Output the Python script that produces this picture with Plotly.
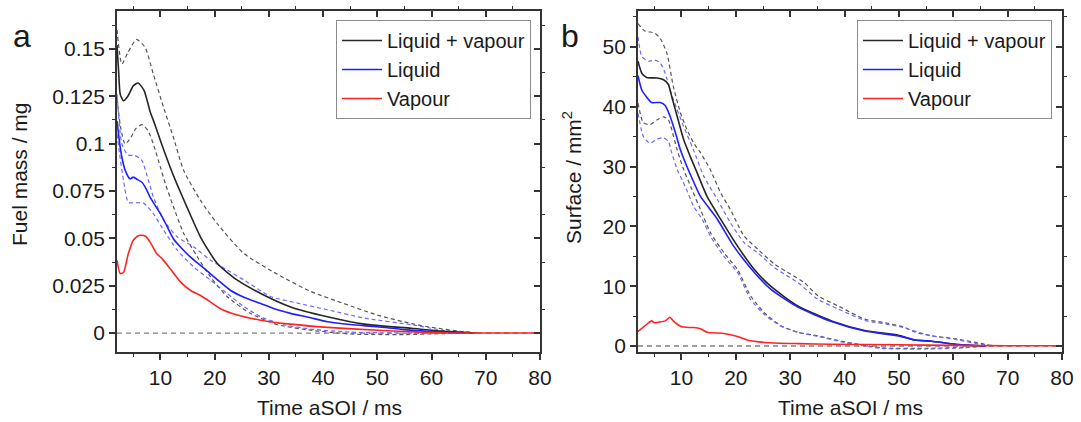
import plotly.graph_objects as go

# ---------------- Panel a : fuel mass (mg) ----------------
a_lv_x = [2, 2.3, 2.6, 3.2, 4, 5, 5.9, 7, 8.1, 9, 10, 11.8, 13, 14.9, 17.4, 20.5, 24.2, 28.5, 34, 40.8, 47.6, 56.3, 62, 68]
a_lv_y = [0.152, 0.138, 0.126, 0.1226, 0.125, 0.1305, 0.132, 0.128, 0.117, 0.110, 0.1016, 0.0875, 0.079, 0.0665, 0.0507, 0.0367, 0.0279, 0.0209, 0.0138, 0.0086, 0.0047, 0.0025, 0.001, 0]

a_liq_x = [2, 2.5, 2.9, 3.5, 4.4, 5, 5.8, 6.6, 7.4, 8.1, 9, 10, 11.2, 12.4, 14, 15.5, 17.5, 19.2, 21, 22.9, 25.5, 28.5, 31, 34, 37.5, 40.8, 45, 50, 55, 60, 66]
a_liq_y = [0.112, 0.1, 0.0928, 0.086, 0.0814, 0.0823, 0.081, 0.0796, 0.076, 0.0717, 0.0675, 0.063, 0.0565, 0.0498, 0.0445, 0.0402, 0.0355, 0.0314, 0.027, 0.0226, 0.0188, 0.0156, 0.0128, 0.0104, 0.0082, 0.006, 0.0045, 0.0033, 0.0018, 0.0008, 0]

a_vap_x = [2, 2.6, 3.2, 4.1, 5, 5.9, 6.5, 7.2, 8.1, 9.3, 10.3, 11.8, 13.7, 15.5, 17.4, 19.2, 21, 24.2, 28.5, 34, 40.8, 50, 58, 64, 80]
a_vap_y = [0.0384, 0.0314, 0.032, 0.042, 0.049, 0.0514, 0.0516, 0.0512, 0.048, 0.042, 0.0393, 0.034, 0.027, 0.0226, 0.0198, 0.0165, 0.013, 0.0095, 0.0068, 0.0047, 0.003, 0.0015, 0.0005, 0, 0]

a_lv_hi_x = [2, 2.9, 4, 5.6, 7.2, 8.7, 10.6, 12.4, 14.3, 17.4, 20.5, 25.4, 31.6, 37.7, 43.9, 50, 56.3, 60, 65, 69]
a_lv_hi_y = [0.16, 0.142, 0.148, 0.155, 0.1507, 0.1367, 0.119, 0.1033, 0.0858, 0.07, 0.0577, 0.042, 0.031, 0.022, 0.0155, 0.0095, 0.005, 0.003, 0.001, 0]

a_lv_lo_x = [2, 2.7, 3.5, 4.5, 5.5, 6.6, 7.7, 8.7, 10, 10.9, 12.4, 14.3, 16.8, 19.2, 22.3, 26.6, 31.6, 37.7, 45, 55, 62, 68]
a_lv_lo_y = [0.124, 0.108, 0.0998, 0.103, 0.108, 0.110, 0.107, 0.0998, 0.0876, 0.079, 0.0667, 0.0526, 0.0403, 0.0298, 0.0193, 0.0104, 0.0044, 0.0015, -0.0005, -0.0008, -0.0003, 0]

a_liq_hi_x = [2, 2.9, 4, 5.3, 6.6, 7.8, 8.7, 10.6, 13.1, 16.1, 19.2, 22.3, 25.4, 30.3, 35.3, 40.8, 47.6, 56.3, 62, 66]
a_liq_hi_y = [0.126, 0.0998, 0.094, 0.0937, 0.091, 0.0805, 0.0719, 0.0596, 0.0508, 0.0456, 0.0386, 0.0333, 0.028, 0.0193, 0.0158, 0.0123, 0.0079, 0.0044, 0.0015, 0]

a_liq_lo_x = [2, 2.6, 3.2, 4.1, 5.5, 6.9, 8.7, 10.6, 13.1, 16.1, 19.2, 22.3, 25.4, 28.5, 32.8, 37.7, 45, 55, 62]
a_liq_lo_y = [0.105, 0.092, 0.0805, 0.069, 0.0688, 0.0686, 0.063, 0.0543, 0.0438, 0.035, 0.028, 0.0209, 0.0139, 0.0086, 0.0044, 0.0021, 0.0005, 0, 0]

# ---------------- Panel b : surface (mm^2) ----------------
b_lv_x = [2, 2.7, 3.6, 5.5, 6.7, 7.6, 8.2, 9.2, 10.4, 11.6, 12.9, 14.7, 17.2, 20.3, 23.4, 26.4, 31.4, 37.6, 43.7, 49.9, 53, 56, 60.4, 66]
b_lv_y = [47.6, 45.6, 44.9, 44.8, 44.5, 43.7, 41.7, 38.4, 34.5, 31.7, 28.9, 25, 21.2, 16.7, 12.8, 10, 6.7, 4.2, 2.6, 1.8, 1.0, 0.8, 0.3, 0]

b_liq_x = [2, 2.7, 3.6, 4.5, 6.1, 7, 7.9, 8.9, 9.8, 11, 12.2, 13.5, 16.6, 19.6, 23.4, 26.4, 31.4, 37.6, 43.7, 49.9, 53, 56, 60.4, 66]
b_liq_y = [45.2, 42.8, 41.6, 40.7, 40.7, 40.2, 38.4, 35.6, 32.8, 30, 27.5, 25, 21.2, 16.7, 12.3, 9.5, 6.5, 4.1, 2.5, 1.7, 1.0, 0.8, 0.3, 0]

b_vap_x = [2, 3.3, 4.5, 5, 5.9, 7, 7.9, 8.5, 9.8, 11.3, 12.2, 13.5, 14.7, 17.8, 20.3, 22.1, 25.2, 31.4, 37.6, 49.9, 60, 70, 80]
b_vap_y = [2.4, 3.4, 4.2, 3.9, 4.0, 4.2, 4.8, 4.2, 3.3, 3.1, 3.1, 2.9, 2.3, 2.1, 1.6, 1.0, 0.6, 0.4, 0.3, 0.2, 0.1, 0.05, 0.05]

b_lv_hi_x = [2, 3.2, 5.1, 6.1, 7.3, 8.5, 9.8, 11, 12.2, 13.5, 15.3, 17.2, 19, 21.5, 24, 27.1, 30.1, 32.6, 35.1, 38.8, 43.7, 47.4, 51.1, 53, 56, 60.4, 65.3, 67]
b_lv_hi_y = [53.9, 52.7, 52.3, 51.4, 49, 43.4, 39, 36.2, 34, 32.3, 29.5, 25.6, 22.8, 18.4, 16.2, 13.7, 12, 10.6, 8.4, 6.7, 4.5, 3.9, 3.1, 2.3, 1.7, 1.2, 0.4, 0]

b_liq_hi_x = [2, 2.7, 3.9, 5.1, 6.1, 7, 7.9, 9.2, 10.4, 12.2, 14.1, 16.6, 19, 21.5, 24, 27.1, 31.4, 35.1, 38.8, 43.7, 49.9, 56, 60.4, 65, 69]
b_liq_hi_y = [51.7, 48.4, 47.6, 47.8, 47.3, 45.6, 42.8, 39.5, 36.7, 32.8, 28.4, 24.5, 20.6, 17.3, 15.6, 13.1, 10.6, 7.8, 6.2, 4.3, 3.3, 1.7, 1.1, 0.3, 0]

b_lv_lo_x = [2, 3, 4.2, 5.5, 6.7, 7.6, 8.2, 9.2, 10.4, 11.9, 13.5, 15.3, 17.8, 20.3, 22.7, 25.2, 28.3, 31.4, 35.1, 40, 46.8, 55, 62, 66]
b_lv_lo_y = [40.6, 37.3, 37, 37.8, 38.3, 37.8, 36.2, 32.8, 29.5, 26.2, 22.8, 19, 15.6, 12.8, 8.4, 5.6, 3.4, 2.3, 1.7, 0.7, -0.3, -0.4, -0.2, 0]

b_liq_lo_x = [2, 3, 4.2, 5.5, 6.7, 7.6, 8.2, 9.2, 10.1, 11, 12.2, 13.8, 15.3, 17.8, 20.3, 22.7, 25.2, 28.3, 31.4, 35.1, 40, 46.8, 55, 62, 66]
b_liq_lo_y = [38.9, 35, 33.9, 34.6, 34.8, 34.2, 32.3, 29.5, 27.8, 26, 23.4, 21.2, 18.4, 15, 12.3, 7.8, 5.3, 3.3, 2.3, 1.6, 0.6, -0.4, -0.5, -0.3, 0]

# ---------------- ticks / labels ----------------
x_tickvals = [10, 20, 30, 40, 50, 60, 70, 80]
x_ticktext = ["10", "20", "30", "40", "50", "60", "70", "80"]
a_tickvals = [0, 0.025, 0.05, 0.075, 0.1, 0.125, 0.15]
a_ticktext = ["0", "0.025", "0.05", "0.075", "0.1", "0.125", "0.15"]
b_tickvals = [0, 10, 20, 30, 40, 50]
b_ticktext = ["0", "10", "20", "30", "40", "50"]
series_names = ["Liquid + vapour", "Liquid", "Vapour"]

W, H = 1081, 422
FONT = "Liberation Sans, Arial, sans-serif"
C_BLACK = "#262626"
C_BLUE = "#1f1fff"
C_RED = "#ff2424"
C_GREY_D = "#555555"
C_BLUE_D = "#6a6aff"
AXC = "#333333"

fig = go.Figure()

def solid(x, y, name, color, xa, ya, legend):
    fig.add_trace(go.Scatter(x=x, y=y, name=name, mode="lines", xaxis=xa, yaxis=ya,
                             line=dict(color=color, width=1.6, shape="spline", smoothing=0.6),
                             legend=legend, hoverinfo="skip"))

def dashed(x, y, color, xa, ya):
    fig.add_trace(go.Scatter(x=x, y=y, mode="lines", xaxis=xa, yaxis=ya, showlegend=False,
                             line=dict(color=color, width=1.2, dash="4px,3px", shape="spline", smoothing=0.6),
                             hoverinfo="skip"))

# panel a
dashed(a_lv_hi_x, a_lv_hi_y, C_GREY_D, "x", "y")
dashed(a_lv_lo_x, a_lv_lo_y, C_GREY_D, "x", "y")
dashed(a_liq_hi_x, a_liq_hi_y, C_BLUE_D, "x", "y")
dashed(a_liq_lo_x, a_liq_lo_y, C_BLUE_D, "x", "y")
solid(a_lv_x, a_lv_y, series_names[0], C_BLACK, "x", "y", "legend")
solid(a_liq_x, a_liq_y, series_names[1], C_BLUE, "x", "y", "legend")
solid(a_vap_x, a_vap_y, series_names[2], C_RED, "x", "y", "legend")

# panel b
dashed(b_lv_hi_x, b_lv_hi_y, C_GREY_D, "x2", "y2")
dashed(b_lv_lo_x, b_lv_lo_y, C_GREY_D, "x2", "y2")
dashed(b_liq_hi_x, b_liq_hi_y, C_BLUE_D, "x2", "y2")
dashed(b_liq_lo_x, b_liq_lo_y, C_BLUE_D, "x2", "y2")
solid(b_lv_x, b_lv_y, series_names[0], C_BLACK, "x2", "y2", "legend2")
solid(b_liq_x, b_liq_y, series_names[1], C_BLUE, "x2", "y2", "legend2")
solid(b_vap_x, b_vap_y, series_names[2], C_RED, "x2", "y2", "legend2")

# invisible traces so that the mirrored (inside-tick) axes are drawn
fig.add_trace(go.Scatter(x=[None], y=[None], xaxis="x3", yaxis="y3", showlegend=False, hoverinfo="skip"))
fig.add_trace(go.Scatter(x=[None], y=[None], xaxis="x4", yaxis="y4", showlegend=False, hoverinfo="skip"))

# zero reference lines
for xr, yr in (("x", "y"), ("x2", "y2")):
    fig.add_shape(type="line", xref=xr, yref=yr, x0=2, x1=80, y0=0, y1=0, layer="below",
                  line=dict(color="#808080", width=1.3, dash="5px,4px"))

def px2fx(p):
    return p / W

def px2fy(p):
    return 1 - p / H

dom_a = [px2fx(117), px2fx(540)]
dom_b = [px2fx(638), px2fx(1062)]
dom_y = [px2fy(352), px2fy(11)]

tickfont = dict(family=FONT, size=21, color="#1a1a1a")
x_minor = [5, 15, 25, 35, 45, 55, 65, 75]

def main_x(dom, anchor):
    return dict(domain=dom, anchor=anchor, range=[2, 80], tickvals=x_tickvals, ticktext=x_ticktext,
                ticks="outside", ticklen=6, tickwidth=1.5, tickcolor=AXC, showline=True, linecolor=AXC,
                linewidth=1.8, showgrid=False, zeroline=False, tickfont=tickfont, automargin=False,
                minor=dict(tickvals=x_minor, ticklen=3, tickwidth=1.2, tickcolor=AXC),
                fixedrange=True)

def main_y(rng, tv, tt, minor_vals, anchor):
    return dict(domain=dom_y, anchor=anchor, range=rng, tickvals=tv, ticktext=tt,
                ticks="outside", ticklen=6, tickwidth=1.5, tickcolor=AXC, showline=True, linecolor=AXC,
                linewidth=1.8, showgrid=False, zeroline=False, tickfont=tickfont, automargin=False,
                minor=dict(tickvals=minor_vals, ticklen=3, tickwidth=1.2, tickcolor=AXC), fixedrange=True)

def mirror_x(dom, anchor, overlay):
    return dict(domain=dom, anchor=anchor, overlaying=overlay, side="top", range=[2, 80], tickvals=x_tickvals,
                ticks="inside", ticklen=6, tickwidth=1.5, tickcolor=AXC, showline=True, linecolor=AXC,
                linewidth=1.8, showgrid=False, zeroline=False, showticklabels=False, automargin=False,
                minor=dict(tickvals=x_minor, ticklen=3, tickwidth=1.2, tickcolor=AXC),
                fixedrange=True)

def mirror_y(rng, tv, minor_vals, anchor, overlay):
    return dict(domain=dom_y, anchor=anchor, overlaying=overlay, side="right", range=rng, tickvals=tv,
                ticks="inside", ticklen=6, tickwidth=1.5, tickcolor=AXC, showline=True, linecolor=AXC,
                linewidth=1.8, showgrid=False, zeroline=False, showticklabels=False, automargin=False,
                minor=dict(tickvals=minor_vals, ticklen=3, tickwidth=1.2, tickcolor=AXC), fixedrange=True)

a_range = [-0.01, 0.17]
b_range = [-1, 56]
a_minor = [-0.0125, 0.0125, 0.0375, 0.0625, 0.0875, 0.1125, 0.1375, 0.1625]
b_minor = [5, 15, 25, 35, 45, 55]

legend_common = dict(bgcolor="white", bordercolor="#8c8c8c", borderwidth=1,
                     font=dict(family=FONT, size=20, color="#1a1a1a"),
                     xanchor="right", yanchor="top", tracegroupgap=0, itemwidth=40)

fig.update_layout(
    width=W, height=H,
    margin=dict(l=0, r=0, t=0, b=0),
    paper_bgcolor="white", plot_bgcolor="white",
    font=dict(family=FONT, color="#1a1a1a"),
    xaxis=main_x(dom_a, "y"),
    yaxis=main_y(a_range, a_tickvals, a_ticktext, a_minor, "x"),
    xaxis2=main_x(dom_b, "y2"),
    yaxis2=main_y(b_range, b_tickvals, b_ticktext, b_minor, "x2"),
    xaxis3=mirror_x(dom_a, "y3", "x"),
    yaxis3=mirror_y(a_range, a_tickvals, a_minor, "x3", "y"),
    xaxis4=mirror_x(dom_b, "y4", "x2"),
    yaxis4=mirror_y(b_range, b_tickvals, b_minor, "x4", "y2"),
    legend=dict(x=px2fx(531), y=px2fy(20), **legend_common),
    legend2=dict(x=px2fx(1052), y=px2fy(20), **legend_common),
)

ann_font = dict(family=FONT, size=21, color="#1a1a1a")
annotations = [
    dict(text="a", x=px2fx(22), y=px2fy(36), font=dict(family=FONT, size=32, color="#1a1a1a")),
    dict(text="b", x=px2fx(570), y=px2fy(36), font=dict(family=FONT, size=32, color="#1a1a1a")),
    dict(text="Fuel mass / mg", x=px2fx(20), y=px2fy(174), textangle=-90, font=ann_font),
    dict(text="Surface / mm<sup>2</sup>", x=px2fx(572), y=px2fy(178), textangle=-90, font=ann_font),
    dict(text="Time aSOI / ms", x=px2fx(329), y=px2fy(407), font=ann_font),
    dict(text="Time aSOI / ms", x=px2fx(850), y=px2fy(407), font=ann_font),
]
for a in annotations:
    fig.add_annotation(xref="paper", yref="paper", showarrow=False, xanchor="center", yanchor="middle", **a)

fig.write_html("out.html", config={"displayModeBar": False},
               post_script="document.body.style.margin='0';document.body.style.overflow='hidden';")
